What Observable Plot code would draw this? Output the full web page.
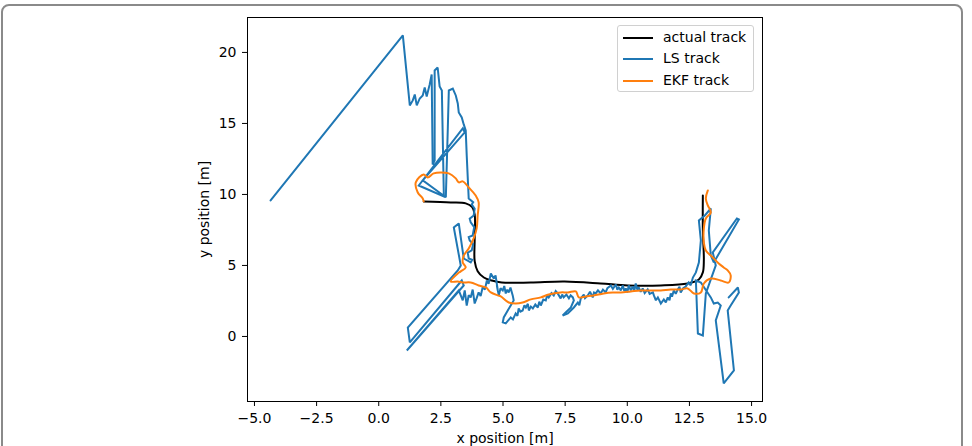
<!DOCTYPE html>
<html>
<head>
<meta charset="utf-8">
<script src="https://cdn.jsdelivr.net/npm/d3@7"></script>
<script src="https://cdn.jsdelivr.net/npm/@observablehq/plot@0.6"></script>
<style>
  html, body { margin: 0; padding: 0; background: #fff; }
  #wrap { position: relative; width: 972px; height: 446px; overflow: hidden; font-family: "DejaVu Sans", sans-serif; }
  #border { position: absolute; left: 1px; top: 4px; width: 962px; height: 470px; border: 2px solid #8a8a8a; border-radius: 8px; box-sizing: border-box; }
  #chart { position: absolute; left: 0; top: 0; }
  #legend { position: absolute; left: 617px; top: 25px; width: 137px; height: 67px; box-sizing: border-box;
            border: 1px solid #d0d0d0; border-radius: 3px; background: rgba(255,255,255,0.8); }
  .entry { position: absolute; left: 0; height: 20px; font-size: 14px; color: #000; white-space: nowrap; }
  .entry .swatch { position: absolute; left: 5px; top: 9px; width: 30px; height: 2px; }
  .entry .label { position: absolute; left: 45px; top: 1px; line-height: 17px; }
</style>
</head>
<body>
<div id="wrap">
  <div id="border"></div>
  <div id="chart"></div>
  <div id="legend"></div>
</div>
<script>
// Ground-truth path of the walk
const actualTrack = [
  [1.81, 9.51], [2.90, 9.44], [3.50, 9.37], [3.76, 9.10], [3.86, 8.60], [3.86, 6.80],
  [3.86, 5.30], [3.98, 4.60], [4.23, 4.15], [4.55, 3.94], [4.95, 3.80], [6.12, 3.80],
  [7.48, 3.87], [8.93, 3.73], [10.02, 3.59], [11.35, 3.59], [12.43, 3.73], [12.88, 4.01],
  [13.04, 4.51], [13.08, 5.35], [13.04, 7.46], [13.04, 9.93]
];

// Least-squares position fixes
const lsTrack = [
  [-4.35, 9.58], [0.97, 21.20], [1.25, 16.27], [1.37, 16.62], [1.45, 17.04], [1.53, 16.27],
  [1.65, 16.76], [1.77, 16.97], [1.85, 17.53], [1.93, 16.90], [2.05, 17.75], [2.13, 18.45],
  [2.17, 12.11], [2.25, 12.39], [2.25, 18.73], [2.37, 18.94], [2.45, 17.61], [2.54, 17.32],
  [2.62, 9.86], [1.61, 10.63], [3.38, 14.65], [3.46, 14.37], [1.77, 10.99], [2.70, 9.80],
  [2.78, 14.72], [2.82, 17.32], [2.98, 17.46], [3.10, 16.97], [3.18, 16.41], [3.22, 15.77],
  [3.34, 15.42], [3.42, 14.93], [3.50, 14.51], [3.54, 12.75], [3.62, 9.72], [3.80, 9.45],
  [3.74, 9.30], [3.86, 9.00], [3.82, 8.52], [3.66, 8.30], [3.70, 8.03], [3.84, 7.70],
  [3.78, 7.11], [3.62, 7.00], [3.66, 6.76], [3.80, 6.50], [3.74, 6.06], [3.58, 5.90],
  [3.62, 5.49], [3.76, 5.40], [3.70, 5.21], [3.42, 5.49], [3.22, 7.96], [3.02, 7.68],
  [3.30, 5.00], [3.18, 4.65], [1.17, 0.63], [1.25, -0.42], [3.34, 3.94], [3.42, 3.59],
  [1.13, -0.99], [3.22, 3.24], [3.38, 2.54], [3.46, 3.24], [3.54, 2.18], [3.62, 2.90],
  [3.70, 2.75], [3.78, 3.30], [3.86, 2.32], [3.94, 2.70], [4.02, 3.10], [4.10, 2.85],
  [4.19, 3.52], [4.27, 3.30], [4.35, 3.94], [4.42, 3.70], [4.51, 4.44], [4.63, 4.08],
  [4.70, 4.30], [4.79, 3.24], [4.75, 3.60], [4.83, 2.89], [4.90, 3.40], [4.99, 3.24],
  [5.05, 3.55], [5.11, 3.03], [5.17, 3.30], [5.23, 3.10], [5.30, 3.45], [5.39, 2.89],
  [5.43, 2.54], [5.31, 2.18], [5.19, 1.83], [5.03, 1.34], [4.99, 0.99], [5.11, 0.92],
  [5.31, 1.34], [5.40, 1.20], [5.51, 1.62], [5.58, 1.45], [5.63, 1.97], [5.70, 1.75],
  [5.79, 1.83], [5.86, 2.20], [5.92, 2.04], [6.00, 2.30], [6.04, 1.83], [6.12, 2.10],
  [6.20, 1.97], [6.30, 2.25], [6.40, 2.04], [6.46, 2.45], [6.52, 2.18], [6.62, 2.60],
  [6.72, 2.54], [6.78, 2.90], [6.84, 2.75], [6.95, 3.05], [7.04, 2.89], [7.12, 3.20],
  [7.20, 3.03], [7.32, 2.68], [7.38, 2.95], [7.44, 2.75], [7.55, 2.95], [7.65, 2.68],
  [7.72, 2.90], [7.81, 2.75], [7.85, 2.54], [7.73, 2.04], [7.52, 1.69], [7.40, 1.48],
  [7.61, 1.62], [7.85, 2.04], [8.01, 2.39], [8.07, 2.20], [8.13, 2.68], [8.25, 2.95],
  [8.30, 2.70], [8.41, 2.89], [8.50, 3.15], [8.61, 2.75], [8.66, 3.10], [8.73, 3.03],
  [8.82, 3.25], [8.93, 3.03], [9.02, 3.30], [9.13, 3.10], [9.20, 3.40], [9.34, 3.59],
  [9.42, 3.35], [9.54, 3.66], [9.60, 3.30], [9.66, 3.45], [9.74, 3.25], [9.82, 3.59],
  [9.88, 3.20], [9.94, 3.38], [10.00, 3.10], [10.06, 3.59], [10.14, 3.25], [10.22, 3.52],
  [10.28, 3.20], [10.34, 3.73], [10.40, 3.30], [10.46, 3.45], [10.54, 3.15], [10.62, 3.38],
  [10.70, 3.05], [10.82, 3.31], [10.90, 3.00], [11.03, 3.10], [11.07, 2.89], [11.15, 2.55],
  [11.23, 2.75], [11.35, 2.32], [11.47, 2.61], [11.55, 2.40], [11.63, 2.75], [11.70, 2.55],
  [11.75, 3.03], [11.80, 2.80], [11.87, 3.24], [11.95, 3.00], [12.03, 3.31], [12.10, 3.50],
  [12.15, 3.10], [12.25, 3.40], [12.35, 3.52], [12.47, 3.80], [12.55, 3.60], [12.64, 4.15],
  [12.76, 4.51], [12.88, 5.21], [12.96, 6.76], [12.88, 8.17], [13.12, 8.52], [13.36, 9.01],
  [13.28, 7.46], [13.36, 5.70], [13.48, 5.21], [14.49, 8.24], [14.41, 8.31], [13.44, 5.92],
  [13.56, 5.00], [13.16, 3.03], [13.04, 0.07], [12.84, 0.21], [12.76, 3.94], [12.96, 3.80],
  [13.36, 2.75], [13.48, 2.32], [13.64, 2.39], [13.76, 2.18], [13.56, 1.13], [13.88, -3.31],
  [14.29, -2.39], [14.04, 1.83], [14.16, 2.18], [14.49, 3.10], [14.45, 3.45], [14.08, 2.75]
];

// Extended Kalman filter estimate
const ekfTrack = [
  [1.81, 9.51], [1.77, 9.72], [1.57, 10.14], [1.49, 10.85], [1.81, 11.41], [1.97, 11.20],
  [2.21, 11.48], [2.49, 11.55], [2.82, 11.48], [3.10, 11.13], [3.22, 10.85], [3.38, 10.92],
  [3.62, 10.49], [3.90, 9.93], [4.02, 9.44], [3.98, 8.52], [3.94, 7.61], [3.82, 6.90],
  [3.62, 6.20], [3.42, 5.70], [3.38, 5.21], [3.50, 4.86], [3.30, 4.58], [3.18, 4.44],
  [2.90, 3.87], [3.18, 3.87], [3.38, 3.80], [3.70, 3.80], [4.02, 3.59], [4.31, 3.45],
  [4.51, 3.10], [4.79, 2.89], [4.91, 2.82], [5.23, 2.39], [5.51, 2.32], [5.79, 2.39],
  [6.12, 2.61], [6.52, 2.75], [6.84, 2.96], [7.32, 3.10], [7.61, 3.10], [7.93, 3.17],
  [8.05, 2.75], [8.33, 2.82], [8.65, 2.89], [9.05, 3.03], [9.42, 3.10], [9.74, 3.10],
  [10.14, 3.17], [10.54, 3.24], [10.95, 3.24], [11.35, 3.24], [11.75, 3.31], [12.15, 3.31],
  [12.43, 3.38], [12.68, 3.03], [12.96, 3.10], [13.08, 3.73], [13.36, 4.08], [13.76, 3.94],
  [14.08, 3.80], [14.16, 4.30], [14.04, 4.65], [13.88, 4.86], [13.68, 5.14], [13.44, 5.56],
  [13.16, 6.06], [13.08, 6.62], [13.08, 7.61], [13.16, 8.31], [13.36, 8.73], [13.24, 9.23],
  [13.16, 9.72], [13.24, 10.28]
];

const xTicks = [-5, -2.5, 0, 2.5, 5, 7.5, 10, 12.5, 15];
const yTicks = [0, 5, 10, 15, 20];
const seriesNames = ["actual track", "LS track", "EKF track"];
const seriesColors = ["#000000", "#1f77b4", "#ff7f0e"];

const toRows = (track) => track.map(([x, y]) => ({x, y}));

const chart = Plot.plot({
  width: 972,
  height: 446,
  marginLeft: 247,
  marginRight: 210,
  marginTop: 17,
  marginBottom: 45,
  style: {fontFamily: "DejaVu Sans", fontSize: "14px", color: "#000", background: "transparent"},
  x: {domain: [-5.28, 15.44]},
  y: {domain: [-4.58, 22.46]},
  marks: [
    Plot.line(toRows(actualTrack), {x: "x", y: "y", stroke: seriesColors[0], strokeWidth: 2, curve: "catmull-rom"}),
    Plot.line(toRows(lsTrack), {x: "x", y: "y", stroke: seriesColors[1], strokeWidth: 2, strokeLinejoin: "miter", strokeMiterlimit: 2}),
    Plot.line(toRows(ekfTrack), {x: "x", y: "y", stroke: seriesColors[2], strokeWidth: 2, curve: "catmull-rom"}),
    Plot.frame({stroke: "#000", strokeWidth: 1}),
    Plot.axisX({
      ticks: xTicks, tickSize: 5, tickPadding: 7,
      tickFormat: d3.format(".1f"),
      label: "x position [m]", labelAnchor: "center", labelArrow: "none", labelOffset: 41
    }),
    Plot.axisY({
      ticks: yTicks, tickSize: 5, tickPadding: 6,
      tickFormat: d3.format("d"),
      label: "y position [m]", labelAnchor: "center", labelArrow: "none", labelOffset: 48
    })
  ]
});
document.getElementById("chart").appendChild(chart);

// Legend box in the upper right of the axes
const legend = document.getElementById("legend");
const entryTops = [2, 23, 45];
seriesNames.forEach((name, i) => {
  const e = document.createElement("div");
  e.className = "entry";
  e.style.top = entryTops[i] + "px";
  e.innerHTML = `<div class="swatch" style="background:${seriesColors[i]}"></div><div class="label">${name}</div>`;
  legend.appendChild(e);
});
</script>
</body>
</html>
